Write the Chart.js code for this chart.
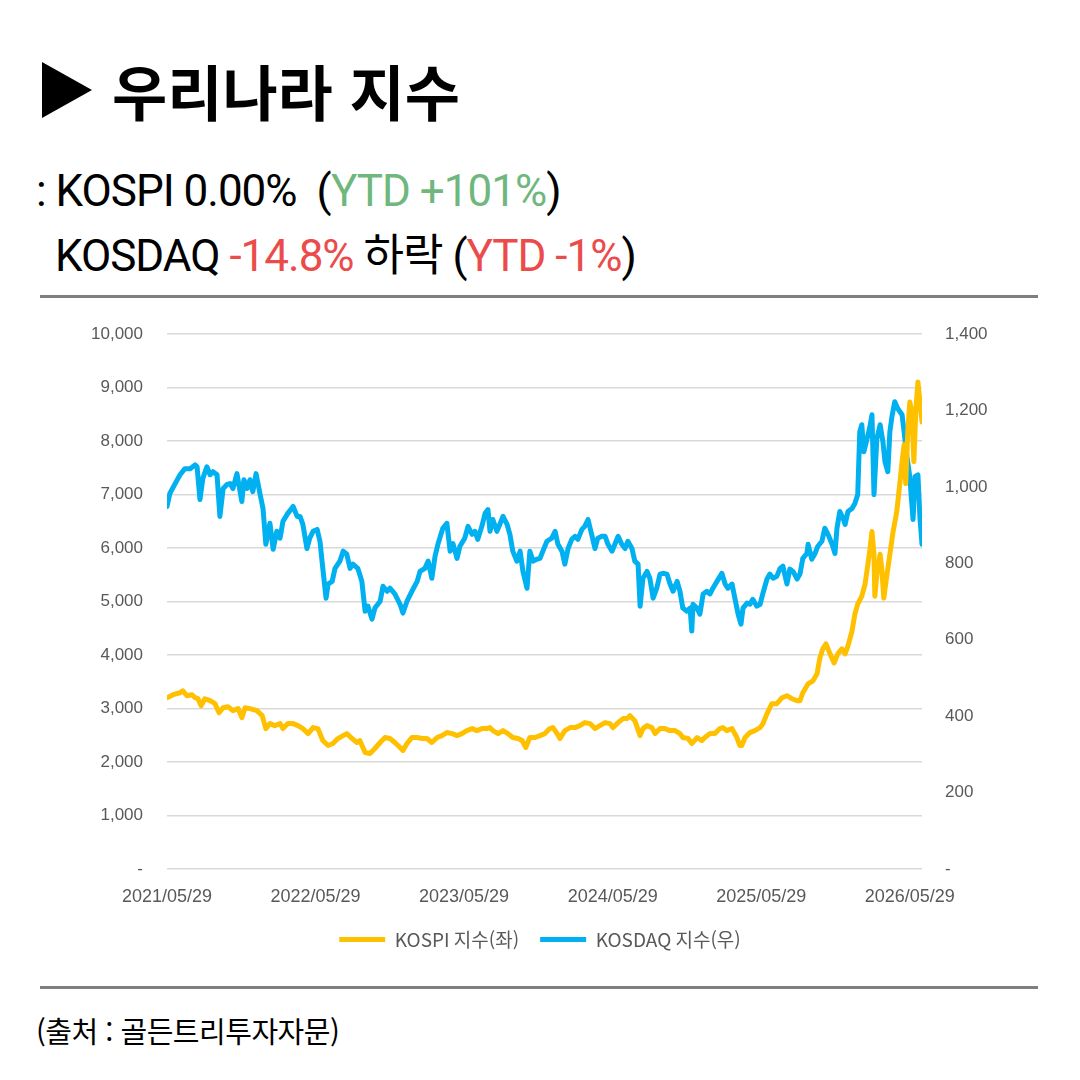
<!DOCTYPE html>
<html lang="ko">
<head>
<meta charset="utf-8">
<script src="https://cdn.jsdelivr.net/npm/chart.js@4.4.1/dist/chart.umd.min.js"></script>
<style>
  html, body { margin: 0; padding: 0; background: #fff; }
  body { width: 1080px; height: 1080px; position: relative; overflow: hidden; font-family: "Noto Sans CJK KR", "Noto Sans", sans-serif; color: #000; }
  .tri { position: absolute; left: 42px; top: 62px; width: 0; height: 0; border-left: 50px solid #000; border-top: 28px solid transparent; border-bottom: 28px solid transparent; }
  .title { position: absolute; left: 112px; top: 50px; font-size: 60px; font-weight: 700; line-height: 80px; letter-spacing: 0px; }
  .sub { position: absolute; font-family: Roboto, "Noto Sans CJK KR", sans-serif; font-size: 44px; line-height: 56px; white-space: pre; letter-spacing: -1px; }
  .green { color: #6fb77c; }
  .red { color: #ec4b4b; }
  .rule { position: absolute; left: 40px; width: 998px; height: 3px; background: #7f7f7f; }
  .src { position: absolute; left: 36px; top: 1008px; font-size: 29px; font-weight: 400; line-height: 44px; letter-spacing: -0.5px; }
  #wrap { position: absolute; left: 0; top: 300px; width: 1080px; height: 690px; }
</style>
</head>
<body>
<div class="tri"></div>
<div class="title">우리나라 지수</div>
<div class="sub" style="left:36px; top:163px;">: KOSPI 0.00%  (<span class="green">YTD +101%</span>)</div>
<div class="sub" style="left:55px; top:228px;">KOSDAQ <span class="red">-14.8%</span> 하락 (<span class="red">YTD -1%</span>)</div>
<div class="rule" style="top:295px;"></div>
<div id="wrap"><canvas id="chartCanvas"></canvas></div>
<div class="rule" style="top:986px;"></div>
<div class="src">(출처 : 골든트리투자자문)</div>

<script>
// --- data (x = days since 2021/05/29) ---
const xTickDays = [0, 365, 730, 1096, 1461, 1826];
const xTickLabels = ["2021/05/29", "2022/05/29", "2023/05/29", "2024/05/29", "2025/05/29", "2026/05/29"];

const kospiDays = [0, 15, 32, 39, 49, 61, 69, 76, 84, 93, 106, 118, 128, 138, 150, 162, 175, 184, 192, 204,
  221, 234, 243, 253, 265, 278, 285, 297, 310, 322, 334, 347, 359, 371, 383, 396, 408, 420, 433, 442,
  455, 467, 474, 487, 499, 511, 524, 536, 548, 560, 573, 580, 590, 602, 615, 627, 639, 651, 664, 676,
  688, 701, 713, 725, 737, 750, 762, 774, 787, 794, 801, 814, 826, 838, 850, 863, 873, 882, 892, 905,
  917, 929, 941, 949, 959, 966, 978, 991, 1003, 1015, 1027, 1040, 1052, 1064, 1077, 1089, 1096, 1109, 1121, 1131,
  1138, 1150, 1163, 1170, 1180, 1192, 1200, 1212, 1224, 1236, 1249, 1261, 1268, 1281, 1290, 1303, 1315, 1322, 1335, 1347,
  1359, 1367, 1376, 1389, 1401, 1408, 1413, 1421, 1433, 1445, 1458, 1465, 1475, 1487, 1499, 1512, 1524, 1536, 1549, 1556,
  1563, 1576, 1588, 1598, 1605, 1612, 1620, 1630, 1640, 1649, 1659, 1667, 1674, 1684, 1691, 1698, 1708, 1716, 1723, 1728,
  1733, 1738, 1740, 1745, 1753, 1757, 1762, 1770, 1777, 1785, 1794, 1802, 1807, 1812, 1816, 1821, 1826, 1831, 1836, 1841,
  1846, 1851, 1856];
const kospiValues = [3203, 3259, 3296, 3333, 3240, 3259, 3203, 3184, 3054, 3184, 3147, 3091, 2923, 3016, 3035, 2961, 2998, 2830, 3016, 2998,
  2961, 2867, 2625, 2719, 2681, 2719, 2625, 2719, 2719, 2681, 2625, 2532, 2644, 2625, 2402, 2309, 2346, 2439, 2495, 2532,
  2439, 2365, 2402, 2179, 2160, 2253, 2365, 2458, 2439, 2365, 2272, 2216, 2346, 2458, 2458, 2439, 2439, 2365, 2458, 2495,
  2551, 2532, 2495, 2532, 2588, 2625, 2588, 2625, 2625, 2644, 2588, 2532, 2588, 2532, 2458, 2439, 2402, 2272, 2458, 2458,
  2495, 2532, 2625, 2644, 2532, 2439, 2588, 2644, 2644, 2681, 2737, 2719, 2625, 2681, 2737, 2719, 2644, 2737, 2812, 2812,
  2867, 2774, 2495, 2625, 2681, 2644, 2532, 2625, 2625, 2588, 2588, 2532, 2458, 2439, 2346, 2458, 2402, 2458, 2532, 2532,
  2625, 2644, 2588, 2625, 2458, 2309, 2309, 2458, 2551, 2588, 2644, 2719, 2905, 3091, 3091, 3203, 3240, 3184, 3147, 3147,
  3296, 3463, 3519, 3650, 3947, 4115, 4208, 4022, 3854, 4022, 4115, 4022, 4171, 4450, 4767, 4953, 5102, 5325, 5698, 5977,
  6312, 5884, 5102, 5512, 5884, 5623, 5065, 5512, 5884, 6312, 6685, 7243, 7616, 7932, 7206, 8174, 8733, 8547, 7616, 8602,
  9105, 8733, 8360];

const kosdaqDays = [0, 7, 20, 32, 44, 57, 69, 74, 81, 88, 98, 106, 113, 123, 130, 138, 147, 155, 162, 172,
  184, 189, 197, 204, 211, 219, 229, 236, 243, 253, 261, 270, 278, 285, 297, 310, 320, 327, 334, 344,
  351, 359, 369, 376, 383, 391, 396, 406, 413, 425, 433, 442, 450, 457, 469, 479, 487, 494, 504, 511,
  524, 531, 541, 548, 560, 573, 580, 590, 602, 615, 622, 634, 642, 651, 659, 666, 678, 688, 696, 703,
  713, 720, 732, 740, 750, 757, 764, 774, 782, 789, 794, 801, 811, 818, 826, 836, 843, 850, 860, 868,
  875, 885, 892, 900, 909, 917, 924, 934, 946, 954, 961, 971, 978, 986, 995, 1003, 1010, 1020, 1027, 1035,
  1045, 1052, 1059, 1069, 1077, 1084, 1094, 1101, 1109, 1118, 1126, 1133, 1143, 1150, 1158, 1163, 1170, 1180, 1187, 1195,
  1204, 1212, 1219, 1229, 1236, 1244, 1254, 1261, 1268, 1278, 1286, 1290, 1293, 1303, 1310, 1318, 1327, 1335, 1342, 1352,
  1364, 1372, 1379, 1389, 1396, 1404, 1411, 1416, 1426, 1433, 1440, 1450, 1458, 1465, 1475, 1482, 1490, 1499, 1507, 1514,
  1524, 1531, 1539, 1549, 1556, 1563, 1573, 1576, 1585, 1593, 1600, 1610, 1617, 1625, 1635, 1642, 1647, 1654, 1662, 1667,
  1674, 1684, 1691, 1698, 1703, 1708, 1713, 1721, 1728, 1733, 1738, 1745, 1753, 1760, 1765, 1772, 1777, 1782, 1789, 1797,
  1807, 1812, 1819, 1826, 1834, 1839, 1846, 1851, 1856];
const kosdaqValues = [949, 983, 1009, 1032, 1048, 1048, 1058, 1053, 967, 1022, 1053, 1032, 1040, 1032, 923, 996, 1006, 1009, 996, 1035,
  962, 1019, 996, 1019, 988, 1035, 980, 944, 850, 905, 837, 884, 866, 910, 931, 949, 923, 923, 902, 839,
  866, 884, 889, 858, 787, 709, 746, 753, 787, 806, 832, 824, 787, 798, 787, 753, 675, 688, 654, 683,
  701, 740, 727, 735, 720, 693, 670, 701, 727, 753, 779, 787, 806, 761, 819, 850, 892, 905, 832, 852,
  813, 845, 866, 897, 876, 884, 863, 897, 931, 941, 884, 915, 884, 902, 923, 902, 876, 832, 806, 832,
  779, 735, 832, 806, 811, 813, 832, 858, 866, 884, 850, 832, 798, 839, 863, 871, 863, 889, 897, 915,
  871, 839, 866, 871, 871, 850, 832, 850, 871, 850, 839, 858, 839, 806, 798, 688, 761, 779, 761, 709,
  735, 772, 774, 772, 748, 727, 753, 727, 683, 675, 683, 623, 693, 683, 667, 720, 727, 720, 735, 753,
  774, 746, 735, 746, 709, 667, 641, 683, 696, 693, 706, 688, 693, 722, 759, 772, 761, 766, 787, 793,
  746, 785, 779, 759, 772, 813, 826, 850, 811, 826, 845, 858, 892, 876, 850, 826, 892, 936, 918, 902,
  936, 944, 957, 980, 1144, 1163, 1092, 1126, 1158, 1189, 980, 1126, 1163, 1118, 1066, 1040, 1144, 1184, 1223, 1204,
  1189, 1144, 1079, 1027, 915, 1027, 1032, 918, 850];

const leftTicksMax = 10000;
const rightTicksMax = 1400;

const kospiColor = "#ffc000";
const kosdaqColor = "#00b0f0";
const tickColor = "#595959";

// --- chart ---
const canvas = document.getElementById("chartCanvas");
const numFmt = v => (v === 0 ? "-" : v.toLocaleString("en-US"));

new Chart(canvas, {
  type: "line",
  data: {
    datasets: [
      {
        label: "KOSPI 지수(좌)",
        data: kospiDays.map((d, i) => ({ x: d, y: kospiValues[i] })),
        yAxisID: "yL",
        borderColor: kospiColor,
        backgroundColor: kospiColor,
        borderWidth: 5,
        borderCapStyle: "round",
        borderJoinStyle: "round",
        pointRadius: 0,
        tension: 0
      },
      {
        label: "KOSDAQ 지수(우)",
        data: kosdaqDays.map((d, i) => ({ x: d, y: kosdaqValues[i] })),
        yAxisID: "yR",
        borderColor: kosdaqColor,
        backgroundColor: kosdaqColor,
        borderWidth: 5,
        borderCapStyle: "round",
        borderJoinStyle: "round",
        pointRadius: 0,
        tension: 0
      }
    ]
  },
  options: {
    responsive: true,
    maintainAspectRatio: false,
    animation: false,
    layout: { padding: { top: 32, bottom: 31 } },
    plugins: {
      tooltip: { enabled: false },
      legend: {
        position: "bottom",
        labels: {
          usePointStyle: true,
          pointStyle: "line",
          pointStyleWidth: 46,
          boxHeight: 6,
          padding: 21,
          color: tickColor,
          font: { family: "'Noto Sans CJK KR', sans-serif", size: 19 }
        }
      }
    },
    scales: {
      x: {
        type: "linear",
        min: 0,
        max: 1856,
        grid: { display: false, drawTicks: false },
        border: { display: false },
        afterBuildTicks: s => { s.ticks = xTickDays.map(v => ({ value: v })); },
        afterFit: s => { s.height = 40; },
        ticks: {
          autoSkip: false,
          maxRotation: 0,
          padding: 17,
          color: tickColor,
          font: { family: "'Liberation Sans', Arial, sans-serif", size: 18 },
          callback: (v, i) => xTickLabels[i]
        }
      },
      yL: {
        position: "left",
        min: 0,
        max: leftTicksMax,
        afterFit: s => { s.width = 167; },
        grid: { color: "#d9d9d9", lineWidth: 1.5, drawTicks: false },
        border: { display: false },
        ticks: {
          stepSize: 1000,
          padding: 24,
          color: tickColor,
          font: { family: "'Liberation Sans', Arial, sans-serif", size: 17 },
          callback: numFmt
        }
      },
      yR: {
        position: "right",
        min: 0,
        max: rightTicksMax,
        afterFit: s => { s.width = 158; },
        grid: { display: false, drawTicks: false },
        border: { display: false },
        ticks: {
          stepSize: 200,
          padding: 23,
          color: tickColor,
          font: { family: "'Liberation Sans', Arial, sans-serif", size: 17 },
          callback: numFmt
        }
      }
    }
  }
});
</script>
</body>
</html>
